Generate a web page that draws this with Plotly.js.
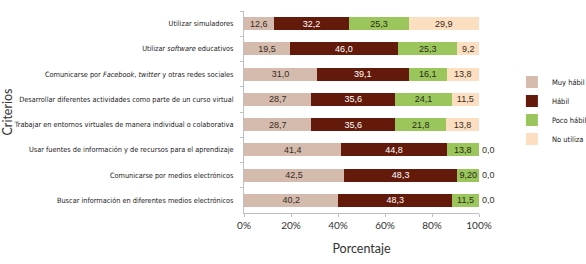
<!DOCTYPE html>
<html>
<head>
<meta charset="utf-8">
<script src="https://cdn.plot.ly/plotly-3.0.1.min.js"></script>
<style>html,body{margin:0;padding:0;background:#fff;}#chart{width:586px;height:264px;}</style>
</head>
<body>
<div id="chart"></div>
<script>
const categories = [
  "Utilizar simuladores",
  "Utilizar <i>software</i> educativos",
  "Comunicarse por <i>Facebook</i>, <i>twitter</i> y otras redes sociales",
  "Desarrollar diferentes actividades como parte de un curso virtual",
  "Trabajar en entornos virtuales de manera individual o colaborativa",
  "Usar fuentes de información y de recursos para el aprendizaje",
  "Comunicarse por medios electrónicos",
  "Buscar información en diferentes medios electrónicos"
];
const muyHabil  = [12.6, 19.5, 31.0, 28.7, 28.7, 41.4, 42.5, 40.2];
const habil     = [32.2, 46.0, 39.1, 35.6, 35.6, 44.8, 48.3, 48.3];
const pocoHabil = [25.3, 25.3, 16.1, 24.1, 21.8, 13.8, 9.20, 11.5];
const noUtiliza = [29.9, 9.2, 13.8, 11.5, 13.8, 0.0, 0.0, 0.0];
const pocoHabilLabels = ["25,3", "25,3", "16,1", "24,1", "21,8", "13,8", "9,20", "11,5"];
const xTickVals = [0, 20, 40, 60, 80, 100];
const xTickText = ["0%", "20%", "40%", "60%", "80%", "100%"];

const fmt = v => v.toFixed(1).replace('.', ',');
const labelFont = {family: "Liberation Sans, Arial, sans-serif", size: 9};
const condensed = "DejaVu Sans Condensed, sans-serif";

function series(name, vals, color, textColor, labels) {
  return {
    type: 'bar', orientation: 'h', name: name,
    y: categories, x: vals,
    marker: {color: color, line: {width: 0}},
    text: labels || vals.map(fmt),
    textposition: vals.map(v => v === 0 ? 'outside' : 'inside'),
    insidetextanchor: 'middle',
    textfont: Object.assign({}, labelFont, {color: textColor}),
    outsidetextfont: Object.assign({}, labelFont, {color: '#333'}),
    insidetextfont: Object.assign({}, labelFont, {color: textColor}),
    constraintext: 'none',
    cliponaxis: false,
    hoverinfo: 'none'
  };
}

const data = [
  series('Muy hábil', muyHabil, '#d4bbad', '#3a2a22'),
  series('Hábil', habil, '#641a0a', '#ffffff'),
  series('Poco hábil', pocoHabil, '#9bc65c', '#2a2a1a', pocoHabilLabels),
  series('No utiliza', noUtiliza, '#fcdfc0', '#3a2a22')
];

const layout = {
  width: 586, height: 264,
  margin: {l: 244, r: 107, t: 11, b: 51, autoexpand: false},
  paper_bgcolor: '#fff', plot_bgcolor: '#fff',
  barmode: 'stack', bargap: 0.48,
  showlegend: true,
  legend: {
    x: 1.14, y: 0.72, xanchor: 'left', yanchor: 'top',
    traceorder: 'normal',
    font: {family: condensed, size: 7.5, color: '#222'},
    itemwidth: 30
  },
  xaxis: {
    range: [0, 100], tickvals: xTickVals, ticktext: xTickText,
    showgrid: false, zeroline: false,
    showline: true, linecolor: '#bfbfbf', linewidth: 1,
    ticks: 'outside', ticklen: 3, tickcolor: '#bfbfbf',
    tickfont: {family: "Lato, sans-serif", size: 10, color: '#333'},
    title: {text: 'Porcentaje', font: {family: "Lato, sans-serif", size: 12.5, color: '#333'}, standoff: 14},
    fixedrange: true
  },
  yaxis: {
    type: 'category', autorange: 'reversed', automargin: true,
    showgrid: false, zeroline: false,
    showline: true, linecolor: '#bfbfbf', linewidth: 1,
    ticks: 'outside', ticklen: 3, tickcolor: '#bfbfbf', tickson: 'boundaries',
    ticklabelstandoff: 8,
    tickfont: {family: condensed, size: 7.3, color: '#222'},
    title: {text: 'Criterios', font: {family: "Lato, sans-serif", size: 12.5, color: '#333'}, standoff: 8},
    fixedrange: true
  }
};

Plotly.newPlot('chart', data, layout, {displayModeBar: false, staticPlot: true});
</script>
</body>
</html>
